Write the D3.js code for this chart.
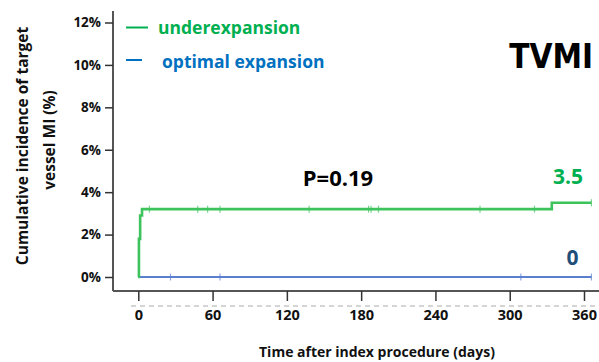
<!DOCTYPE html>
<html>
<head>
<meta charset="utf-8">
<script src="https://cdn.jsdelivr.net/npm/d3@7"></script>
<style>
  html, body { margin: 0; padding: 0; background: #fff; }
  svg { display: block; }
</style>
</head>
<body>
<div id="chart"></div>
<script>
// Kaplan-Meier style cumulative incidence of TVMI, two groups.
const xTicks = [0, 60, 120, 180, 240, 300, 360];
const yTicks = [0, 2, 4, 6, 8, 10, 12];

const underDays = [0, 0.5, 1.5, 3, 334, 366];
const underValues = [0, 1.8, 2.9, 3.2, 3.5, 3.5];
const underCensor = [9, 48, 56, 66, 138, 186, 188, 194, 276, 320, 366];

const optimalDays = [0, 366];
const optimalValues = [0, 0];
const optimalCensor = [26, 66, 309, 366];

const legendLabels = ['underexpansion', 'optimal expansion'];

const width = 599;
const height = 362;
const font = '"Open Sans", Lato, sans-serif';

const colors = {
  underLine: '#3cc35c',
  optimalLine: '#5b7fcf',
  underText: '#00b050',
  optimalText: '#0070c0',
  zeroText: '#1f4e79',
  axis: '#555',
};

const svg = d3
  .select('#chart')
  .append('svg')
  .attr('width', width)
  .attr('height', height);

const x = d3.scaleLinear().domain([0, 360]).range([138.3, 584]);
const y = d3.scaleLinear().domain([0, 12]).range([277, 22.5]);

const axisX = 113;
const axisY = 291;

/* Axis frame */
svg
  .append('line')
  .attr('x1', axisX)
  .attr('x2', axisX)
  .attr('y1', 11)
  .attr('y2', axisY)
  .attr('stroke', colors.axis)
  .attr('stroke-width', 2);

svg
  .append('line')
  .attr('x1', axisX)
  .attr('x2', width)
  .attr('y1', axisY)
  .attr('y2', axisY)
  .attr('stroke', colors.axis)
  .attr('stroke-width', 2);

/* Y axis */
const yAxis = svg
  .append('g')
  .attr('transform', `translate(${axisX},0)`)
  .call(
    d3
      .axisLeft(y)
      .tickValues(yTicks)
      .tickSize(8)
      .tickPadding(4)
      .tickFormat((d) => d + '%')
  );
yAxis.select('.domain').remove();
yAxis.selectAll('line').attr('stroke', '#333').attr('stroke-width', 1.5);
yAxis
  .selectAll('text')
  .attr('fill', '#111')
  .attr('font-family', font)
  .attr('font-size', 13.5)
  .attr('font-weight', 700);

/* faint dashed artefact under x tick labels */
svg
  .append('line')
  .attr('x1', 131)
  .attr('x2', width)
  .attr('y1', 306)
  .attr('y2', 306)
  .attr('stroke', '#aaa')
  .attr('stroke-width', 1)
  .attr('stroke-dasharray', '5,4');

/* X axis */
const xAxis = svg
  .append('g')
  .attr('transform', `translate(0,${axisY})`)
  .call(d3.axisBottom(x).tickValues(xTicks).tickSize(10).tickPadding(9));
xAxis.select('.domain').remove();
xAxis.selectAll('line').attr('stroke', '#333').attr('stroke-width', 1.5);
xAxis
  .selectAll('text')
  .attr('fill', '#111')
  .attr('font-family', font)
  .attr('font-size', 14.5)
  .attr('font-weight', 700);

/* Curves */
const line = d3
  .line()
  .x((d) => x(d[0]))
  .y((d) => y(d[1]))
  .curve(d3.curveStepAfter);

const series = [
  { days: optimalDays, values: optimalValues, censor: optimalCensor, color: colors.optimalLine, w: 2.2 },
  { days: underDays, values: underValues, censor: underCensor, color: colors.underLine, w: 2.6 },
];

series.forEach((s) => {
  const pts = s.days.map((d, i) => [d, s.values[i]]);
  svg
    .append('path')
    .datum(pts)
    .attr('fill', 'none')
    .attr('stroke', s.color)
    .attr('stroke-width', s.w)
    .attr('d', line);

  const valueAt = (day) => {
    let v = s.values[0];
    s.days.forEach((d, i) => {
      if (d <= day) v = s.values[i];
    });
    return v;
  };

  svg
    .append('g')
    .selectAll('line')
    .data(s.censor)
    .join('line')
    .attr('x1', (d) => x(d))
    .attr('x2', (d) => x(d))
    .attr('y1', (d) => y(valueAt(d)) - 3.5)
    .attr('y2', (d) => y(valueAt(d)) + 3.5)
    .attr('stroke', s.color)
    .attr('stroke-opacity', 0.7)
    .attr('stroke-width', 1.2);
});

/* Legend */
const legend = [
  { label: legendLabels[0], color: colors.underText, lx1: 126, lx2: 148, ly: 27.5, tx: 158, ty: 34 },
  { label: legendLabels[1], color: colors.optimalText, lx1: 126, lx2: 142, ly: 60, tx: 162, ty: 68 },
];
legend.forEach((l) => {
  svg
    .append('line')
    .attr('x1', l.lx1)
    .attr('x2', l.lx2)
    .attr('y1', l.ly)
    .attr('y2', l.ly)
    .attr('stroke', l.color)
    .attr('stroke-width', 2);
  svg
    .append('text')
    .attr('x', l.tx)
    .attr('y', l.ty)
    .attr('fill', l.color)
    .attr('font-family', font)
    .attr('font-size', 17.5)
    .attr('font-weight', 700)
    .text(l.label);
});

/* Annotations */
svg
  .append('text')
  .attr('x', 593)
  .attr('y', 68)
  .attr('text-anchor', 'end')
  .attr('fill', '#000')
  .attr('font-family', '"DejaVu Sans Condensed", "DejaVu Sans", sans-serif')
  .attr('font-stretch', 'condensed')
  .attr('font-size', 33)
  .attr('font-weight', 700)
  .text('TVMI');

svg
  .append('text')
  .attr('x', 338)
  .attr('y', 186)
  .attr('text-anchor', 'middle')
  .attr('fill', '#000')
  .attr('font-family', font)
  .attr('font-size', 22)
  .attr('font-weight', 700)
  .text('P=0.19');

svg
  .append('text')
  .attr('x', 568)
  .attr('y', 183.5)
  .attr('text-anchor', 'middle')
  .attr('fill', colors.underText)
  .attr('font-family', font)
  .attr('font-size', 21)
  .attr('font-weight', 700)
  .text('3.5');

svg
  .append('text')
  .attr('x', 572.5)
  .attr('y', 265)
  .attr('text-anchor', 'middle')
  .attr('fill', colors.zeroText)
  .attr('font-family', font)
  .attr('font-size', 21)
  .attr('font-weight', 700)
  .text('0');

/* Axis titles */
svg
  .append('text')
  .attr('x', 377)
  .attr('y', 357)
  .attr('text-anchor', 'middle')
  .attr('fill', '#111')
  .attr('font-family', font)
  .attr('font-size', 14)
  .attr('font-weight', 700)
  .text('Time after index procedure (days)');

const yTitle = svg
  .append('text')
  .attr('transform', 'translate(0,146) rotate(-90)')
  .attr('text-anchor', 'middle')
  .attr('fill', '#111')
  .attr('font-family', font)
  .attr('font-size', 15.5)
  .attr('font-weight', 700);
yTitle.append('tspan').attr('x', 0).attr('y', 28).text('Cumulative incidence of target');
yTitle.append('tspan').attr('x', 6).attr('y', 55).text('vessel MI (%)');
</script>
</body>
</html>
